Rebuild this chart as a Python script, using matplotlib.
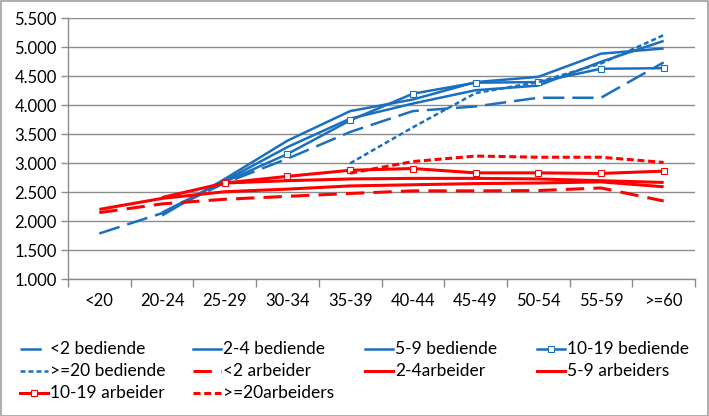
import numpy as np
import matplotlib
matplotlib.use("Agg")
import matplotlib.pyplot as plt
from matplotlib.lines import Line2D
from matplotlib.patches import Rectangle

plt.rcParams['font.family'] = ['Lato', 'DejaVu Sans']

# categories (age groups)
age_groups = ["<20", "20-24", "25-29", "30-34", "35-39", "40-44", "45-49", "50-54", "55-59", ">=60"]

# series values (None = no value)
bed_lt2 = [1790, 2140, 2660, 3080, 3540, 3900, 3980, 4130, 4130, 4740]
bed_2_4 = [None, 2100, 2730, 3390, 3900, 4100, 4400, 4490, 4890, 4980]
bed_5_9 = [None, 2150, 2700, 3280, 3770, 4030, 4260, 4340, 4750, 5110]
bed_10_19 = [None, None, 2680, 3160, 3740, 4200, 4390, 4400, 4630, 4640]
bed_ge20 = [None, None, None, None, 3000, 3620, 4210, 4400, 4720, 5210]
arb_lt2 = [2150, 2300, 2380, 2430, 2480, 2525, 2525, 2530, 2575, 2350]
arb_2_4 = [2205, 2395, 2510, 2555, 2610, 2630, 2650, 2660, 2680, 2595]
arb_5_9 = [None, 2410, 2660, 2700, 2730, 2740, 2740, 2730, 2700, 2670]
arb_10_19 = [None, None, 2660, 2775, 2880, 2910, 2835, 2835, 2825, 2865]
arb_ge20 = [None, None, None, None, 2830, 3030, 3125, 3105, 3105, 3015]

legend_labels = ["<2 bediende", "2-4 bediende", "5-9 bediende", "10-19 bediende",
                 ">=20 bediende", "<2 arbeider", "2-4arbeider", "5-9 arbeiders",
                 "10-19 arbeider", ">=20arbeiders"]

y_ticks = [1000, 1500, 2000, 2500, 3000, 3500, 4000, 4500, 5000, 5500]

BLUE = "#1a6fbe"
RED = "#ff0000"
GRID = "#8c8c8c"

long_blue = (0, (8.5, 3.2))
long_red = (0, (6, 3))
short_blue = (0, (2, 1.2))
short_red = (0, (2.3, 1.2))

series = [
    (bed_lt2, dict(color=BLUE, lw=1.8, ls=long_blue)),
    (bed_2_4, dict(color=BLUE, lw=1.8, ls="-")),
    (bed_5_9, dict(color=BLUE, lw=1.8, ls="-")),
    (bed_10_19, dict(color=BLUE, lw=1.8, ls="-", marker="s", ms=4.5, mfc="white", mec=BLUE, mew=0.8)),
    (bed_ge20, dict(color=BLUE, lw=1.8, ls=short_blue)),
    (arb_lt2, dict(color=RED, lw=2.2, ls=long_red)),
    (arb_2_4, dict(color=RED, lw=2.2, ls="-")),
    (arb_5_9, dict(color=RED, lw=2.2, ls="-")),
    (arb_10_19, dict(color=RED, lw=2.2, ls="-", marker="s", ms=4.5, mfc="white", mec=RED, mew=0.8)),
    (arb_ge20, dict(color=RED, lw=2.2, ls=short_red)),
]

fig = plt.figure(figsize=(7.09, 4.16), dpi=100)
fig.add_artist(Rectangle((0.001, 0.001), 0.997, 0.997, transform=fig.transFigure,
                         fill=False, edgecolor="#a0a0a0", lw=1.2))

ax = fig.add_axes([68 / 709, 1 - 279.3 / 416, 627 / 709, 261 / 416])
x = np.arange(len(age_groups))

for vals, style in series:
    y = np.array([np.nan if v is None else v for v in vals], dtype=float)
    ax.plot(x, y, solid_capstyle="butt", dash_capstyle="butt", **style)

ax.set_xlim(-0.5, len(age_groups) - 0.5)
ax.set_ylim(1000, 5500)
ax.set_yticks(y_ticks)
ax.set_yticklabels([f"{v:,}".replace(",", ".") for v in y_ticks])
ax.set_xticks(x)
ax.set_xticklabels(age_groups)
ax.set_xticks(np.arange(-0.5, len(age_groups)), minor=True)
ax.tick_params(axis="x", which="major", length=0, pad=10, labelsize=12)
ax.tick_params(axis="x", which="minor", length=6, color=GRID, width=1)
ax.tick_params(axis="y", length=5, color=GRID, width=1, labelsize=12, pad=3)
ax.grid(axis="y", color=GRID, lw=1)
ax.set_axisbelow(True)
for s in ["top", "right"]:
    ax.spines[s].set_visible(False)
for s in ["left", "bottom"]:
    ax.spines[s].set_color(GRID)
    ax.spines[s].set_linewidth(1)

# legend drawn by hand in an evenly spaced 4-column grid
col_x = [20, 193, 365, 537]
row_y = [349, 371, 393]
for i, (label, (vals, style)) in enumerate(zip(legend_labels, series)):
    cx = col_x[i % 4]
    cy = row_y[i // 4]
    st = dict(style)
    mk = st.pop("marker", None)
    ms = st.pop("ms", None)
    mfc = st.pop("mfc", None)
    mec = st.pop("mec", None)
    mew = st.pop("mew", None)
    xs = [cx / 709, (cx + 28) / 709]
    ys = [1 - cy / 416] * 2
    fig.add_artist(Line2D(xs, ys, transform=fig.transFigure, color=st["color"],
                          lw=st["lw"], ls=st["ls"], dash_capstyle="butt"))
    if mk:
        fig.add_artist(Line2D([(cx + 14) / 709], [1 - cy / 416], transform=fig.transFigure,
                              marker=mk, ms=ms, mfc=mfc, mec=mec, mew=mew, ls="none"))
    fig.text((cx + 30) / 709, 1 - cy / 416, label, fontsize=12.5, va="center", ha="left")

fig.savefig("out.png", dpi=100)
